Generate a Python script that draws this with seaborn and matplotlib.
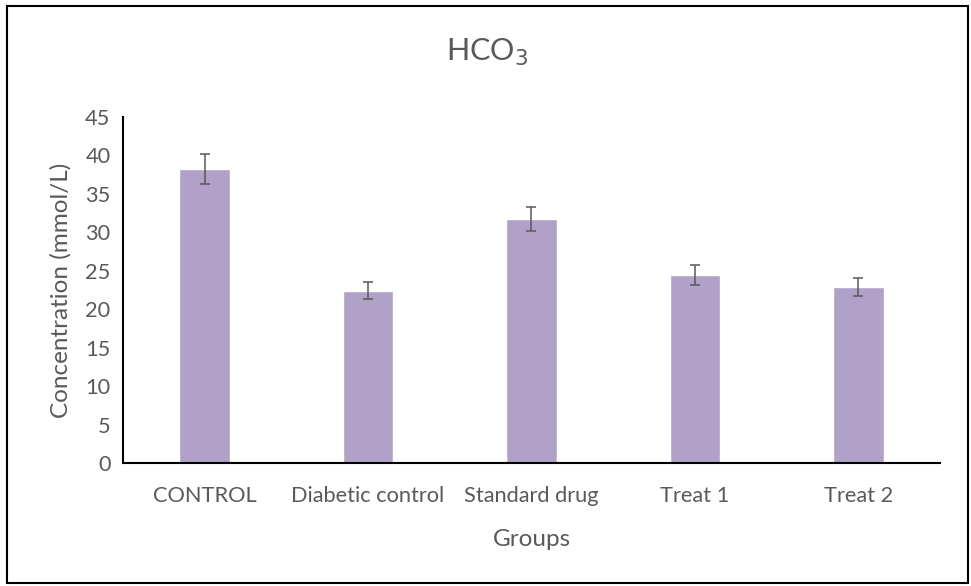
#-- HCO3 concentration by group --

import pandas as pd
import matplotlib.pyplot as plt
import numpy as np
import seaborn as sns
from matplotlib.patches import Rectangle

#--data--
groups  = ['CONTROL', 'Diabetic control', 'Standard drug', 'Treat 1', 'Treat 2']
conc    = [38.2, 22.4, 31.7, 24.4, 22.9]
err     = [1.9, 1.1, 1.6, 1.3, 1.2]
yticks  = [0, 5, 10, 15, 20, 25, 30, 35, 40, 45]

sns.set_theme(style='white')
plt.rcParams['font.family'] = ['Lato', 'DejaVu Sans']

text_col = '#595959'
bar_col  = '#B1A0C7'

df = pd.DataFrame({'Groups': groups, 'conc': conc, 'err': err})

fig = plt.figure(figsize=(9.71, 5.86), dpi=100)
ax = fig.add_axes([0.1267, 0.2094, 0.8413, 0.5915])

sns.barplot(data=df, x='Groups', y='conc', color=bar_col, saturation=1,
            width=0.31, errorbar=None, ax=ax)
ax.errorbar(df['Groups'], df['conc'], yerr=df['err'], fmt='none',
            ecolor='#595959', elinewidth=1.1, capsize=3.6, capthick=1.1)

ax.set_ylim(0, 45)
ax.set_yticks(yticks)
ax.set_xlim(-0.5, len(groups) - 0.5)
ax.tick_params(axis='both', length=0, labelsize=15.7, labelcolor=text_col)
ax.tick_params(axis='x', pad=16)
ax.tick_params(axis='y', pad=9)

for side in ['top', 'right']:
    ax.spines[side].set_visible(False)
for side in ['left', 'bottom']:
    ax.spines[side].set_color('black')
    ax.spines[side].set_linewidth(1.5)

ax.set_xlabel('Groups', fontsize=17.5, color=text_col, labelpad=17)
ax.set_ylabel('Concentration (mmol/L)', fontsize=17.5, color=text_col, labelpad=10)
fig.text(0.5015, 0.91, r'HCO$_3$', ha='center', va='center', fontsize=22, color=text_col)

# outer frame of the chart area
fig.patches.append(Rectangle((7 / 971, 1 - 583 / 586), 961 / 971, 577 / 586,
                             transform=fig.transFigure, fill=False,
                             edgecolor='black', linewidth=1.5))

fig.savefig('out.png', dpi=100)
